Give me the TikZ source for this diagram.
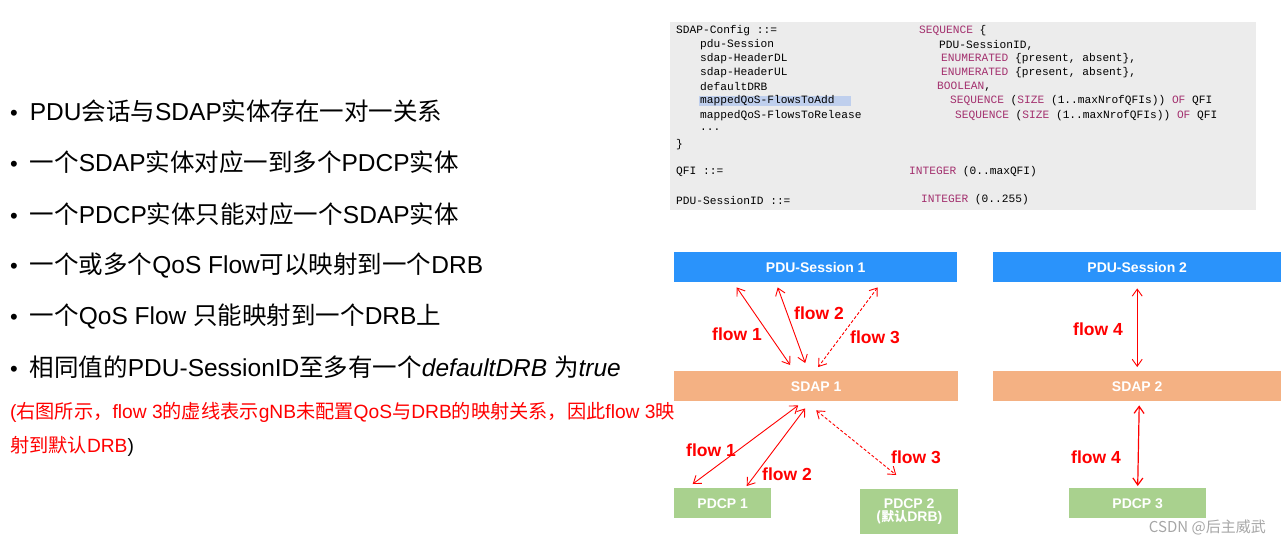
\documentclass[tikz,border=0pt]{standalone}
\usepackage{fontspec}
\setmainfont{Liberation Sans}
\newfontfamily\cjk{Noto Sans CJK SC}
\newfontfamily\mono{Liberation Mono}
\newcommand{\zh}[1]{{\cjk #1}}
\usetikzlibrary{arrows.meta}
\definecolor{kw}{HTML}{A3306E}
\definecolor{blu}{HTML}{2A93FB}
\definecolor{ora}{HTML}{F4B183}
\definecolor{grn}{HTML}{A9D18E}
\begin{document}
\begin{tikzpicture}[x=1pt,y=-1pt,
 box/.style={draw=none,inner sep=0,anchor=north west,font=\bfseries\fontsize{14}{15}\selectfont,text=white},
 code/.style={anchor=west,inner sep=0,font=\mono\fontsize{11.2}{12}\selectfont},
 bul/.style={anchor=west,inner sep=0,font=\fontsize{24.5}{26}\selectfont},
 fl/.style={text=red,font=\bfseries\fontsize{17.5}{19}\selectfont,inner sep=0},
 ar/.style={red,line width=0.9pt,{Straight Barb[length=7pt,width=10pt]}-{Straight Barb[length=7pt,width=10pt]}},
 da/.style={ar,densely dashed}]
\useasboundingbox (0,0) rectangle (1281,546);
\fill[gray!15] (670,22) rectangle (1256,210);
\fill[cyan!50!blue!25] (699,96) rectangle (851,106);
% code
\node[code] at (676,31) {SDAP-Config ::=};
\node[code] at (676,172) {QFI ::=};
\node[code] at (676,200) {PDU-SessionID ::=};
\node[code] at (919,31) {\textcolor{kw}{SEQUENCE} \{};
\node[code] at (909,172) {\textcolor{kw}{INTEGER} (0..maxQFI)};
\node[code] at (921,200) {\textcolor{kw}{INTEGER} (0..255)};
\node[code] at (700,45) {pdu-Session};
\node[code] at (700,59) {sdap-HeaderDL};
\node[code] at (700,73) {sdap-HeaderUL};
\node[code] at (700,87) {defaultDRB};
\node[code] at (700,101) {mappedQoS-FlowsToAdd};
\node[code] at (700,116) {mappedQoS-FlowsToRelease};
\node[code] at (700,130) {...};
\node[code] at (676,145) {\}};
\node[code] at (939,45) {PDU-SessionID,};
\node[code] at (941,59) {\textcolor{kw}{ENUMERATED} \{present, absent\},};
\node[code] at (941,73) {\textcolor{kw}{ENUMERATED} \{present, absent\},};
\node[code] at (937,87) {\textcolor{kw}{BOOLEAN},};
\node[code] at (950,101) {\textcolor{kw}{SEQUENCE} (\textcolor{kw}{SIZE} (1..maxNrofQFIs)) \textcolor{kw}{OF} QFI};
\node[code] at (955,116) {\textcolor{kw}{SEQUENCE} (\textcolor{kw}{SIZE} (1..maxNrofQFIs)) \textcolor{kw}{OF} QFI};
% bullets
\foreach \y/\t in {111/{PDU\zh{会话与}SDAP\zh{实体存在一对一关系}},
 162/{\zh{一个}SDAP\zh{实体对应一到多个}PDCP\zh{实体}},
 214/{\zh{一个}PDCP\zh{实体只能对应一个}SDAP\zh{实体}},
 265/{\zh{一个或多个}QoS Flow\zh{可以映射到一个}DRB},
 316/{\zh{一个}QoS Flow \zh{只能映射到一个}DRB\zh{上}},
 367/{\zh{相同值的}PDU-SessionID\zh{至多有一个}\textit{defaultDRB} \zh{为}\textit{true}}}{
 \node[bul] at (10,\y) {{\fontsize{22}{22}\selectfont•}\hspace{12pt}\t};}
\node[anchor=west,inner sep=0,font=\fontsize{19.2}{20}\selectfont,text=red] at (10,412) {(\zh{右图所示，}flow 3\zh{的虚线表示}gNB\zh{未配置}QoS\zh{与}DRB\zh{的映射关系，因此}flow 3\zh{映}};
\node[anchor=west,inner sep=0,font=\fontsize{19.2}{20}\selectfont,text=red] at (10,446) {\zh{射到默认}DRB\textcolor{black}{)}};
% boxes
\node[box,fill=blu,minimum width=283,minimum height=30] (p1) at (674,252) {PDU-Session 1};
\node[box,fill=blu,minimum width=288,minimum height=30] (p2) at (993,252) {PDU-Session 2};
\node[box,fill=ora,minimum width=284,minimum height=30] (s1) at (674,371) {SDAP 1};
\node[box,fill=ora,minimum width=288,minimum height=30] (s2) at (993,371) {SDAP 2};
\node[box,fill=grn,minimum width=97,minimum height=30] (d1) at (674,488) {PDCP 1};
\node[box,fill=grn,minimum width=98,minimum height=45,align=center] (d2) at (860,489) {PDCP 2\\[-2pt]{\cjk\bfseries\fontsize{13}{14}\selectfont(默认}DRB)};
\node[box,fill=grn,minimum width=137,minimum height=30] (d3) at (1069,488) {PDCP 3};
% coordinates on box edges (yshift in page direction: + is up)
\coordinate (a1) at ([xshift=-79pt,yshift=-5pt]p1.south);
\coordinate (b1) at ([xshift=-26pt,yshift=6pt]s1.north);
\coordinate (a2) at ([xshift=-38pt,yshift=-5pt]p1.south);
\coordinate (b2) at ([xshift=-11pt,yshift=8pt]s1.north);
\coordinate (a3) at ([xshift=62pt,yshift=-5pt]p1.south);
\coordinate (b3) at ([xshift=2pt,yshift=4pt]s1.north);
\draw[ar] (a1) -- (b1);
\draw[ar] (a2) -- (b2);
\draw[da] (a3) -- (b3);
\coordinate (c1) at ([xshift=-18pt,yshift=-4pt]s1.south);
\coordinate (e1) at ([xshift=-30pt,yshift=4pt]d1.north);
\coordinate (c2) at ([xshift=-11pt,yshift=-7pt]s1.south);
\coordinate (e2) at ([xshift=24pt,yshift=2pt]d1.north);
\coordinate (c3) at ([xshift=0pt,yshift=-9pt]s1.south);
\coordinate (e3) at ([xshift=-13pt,yshift=14pt]d2.north);
\draw[ar] (c1) -- (e1);
\draw[ar] (c2) -- (e2);
\draw[da] (c3) -- (e3);
\draw[ar] ([yshift=-6pt]p2.south) -- ([yshift=4pt]s2.north);
\draw[ar,line width=1.2pt] ([xshift=2pt,yshift=-4pt]s2.south) -- ([yshift=2pt]d3.north);
% labels
\node[fl] at (737,334) {flow 1};
\node[fl] at (819,313) {flow 2};
\node[fl] at (875,337) {flow 3};
\node[fl] at (711,450) {flow 1};
\node[fl] at (787,474) {flow 2};
\node[fl] at (916,457) {flow 3};
\node[fl] at (1098,329) {flow 4};
\node[fl] at (1096,457) {flow 4};
\node[anchor=east,inner sep=0,text=gray!70,font=\cjk\fontsize{15}{16}\selectfont] at (1266,527) {CSDN @后主威武};
\end{tikzpicture}
\end{document}
